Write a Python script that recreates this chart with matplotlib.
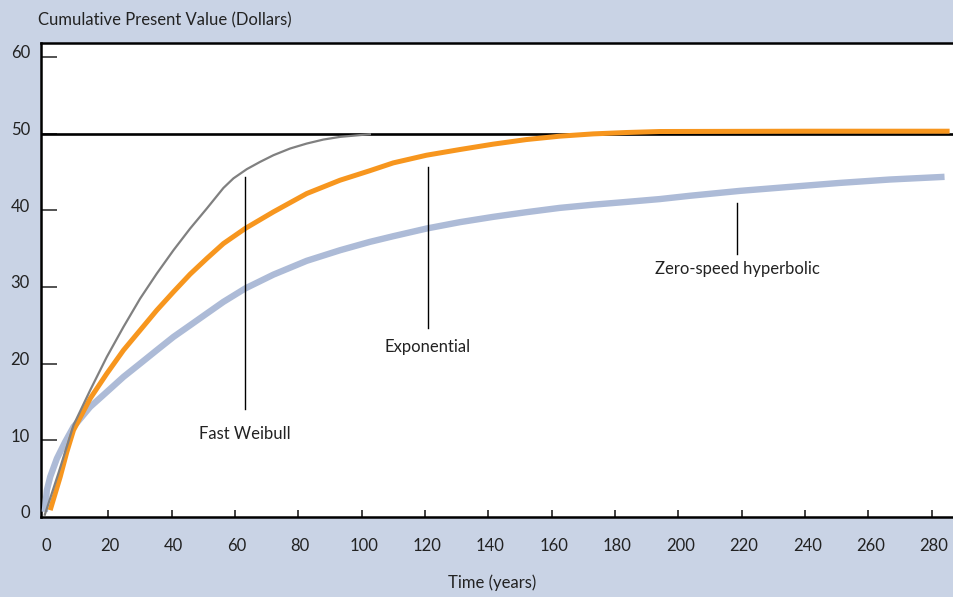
import matplotlib
matplotlib.use("Agg")
import matplotlib.pyplot as plt
import matplotlib.transforms as mtransforms

plt.rcParams['font.family'] = ['Lato', 'DejaVu Sans']

# Data
weibull_t = [0, 4.3, 9.06, 14.32, 19.58, 24.84, 30.09, 35.35, 40.61, 45.87, 51.13,
             56.38, 59.54, 63.75, 67.95, 72.16, 77.41, 82.67, 87.93, 93.19, 102.6]
weibull_v = [0.3, 5.7, 11.97, 16.53, 20.88, 24.79, 28.48, 31.74, 34.78, 37.61, 40.22,
             42.9, 44.15, 45.35, 46.30, 47.17, 48.04, 48.69, 49.21, 49.56, 49.91]

expo_t = [1.70, 3.28, 4.86, 6.96, 9.06, 14.32, 19.58, 24.84, 30.09, 35.35, 40.61,
          45.87, 51.13, 56.38, 63.23, 72.16, 82.67, 93.19, 102.6, 110.0, 120.5,
          131.0, 141.5, 152.0, 162.5, 173.1, 183.6, 194.1, 240, 285.6]
expo_v = [0.89, 3.06, 5.23, 8.49, 11.32, 15.45, 18.70, 21.75, 24.35, 26.96, 29.35,
          31.66, 33.70, 35.65, 37.61, 39.78, 42.17, 43.91, 45.15, 46.17, 47.17,
          47.91, 48.61, 49.21, 49.65, 49.95, 50.13, 50.26, 50.3, 50.3]

hyper_t = [0, 0.65, 1.70, 3.81, 6.44, 9.06, 14.32, 19.58, 24.84, 30.09, 35.35, 40.61,
           45.87, 51.13, 56.38, 63.23, 72.16, 82.67, 93.19, 102.6, 110.0, 120.5,
           131.0, 141.5, 152.0, 162.5, 173.1, 183.6, 194.1, 203.6, 219.4, 235.1,
           251.0, 266.7, 284.0]
hyper_v = [0.67, 3.49, 5.23, 7.62, 9.80, 11.75, 14.36, 16.31, 18.27, 20.0, 21.75, 23.48,
           25.0, 26.53, 28.05, 29.79, 31.6, 33.4, 34.78, 35.87, 36.61, 37.61,
           38.44, 39.13, 39.74, 40.30, 40.72, 41.08, 41.45, 41.88, 42.52, 43.04,
           43.56, 44.0, 44.35]

asymptote = 50
x_ticks = list(range(0, 281, 20))
y_ticks = list(range(0, 61, 10))

labels = ["Fast Weibull", "Exponential", "Zero-speed hyperbolic"]
label_t = [63.2, 120.8, 218.5]
line_top = [44.3, 45.6, 40.9]
line_bot = [14.1, 24.6, 34.3]
text_v = [10.8, 22.1, 32.3]

bg = '#c9d3e5'
fig = plt.figure(figsize=(9.54, 5.97), dpi=100, facecolor=bg)
ax = fig.add_axes([41/954, 1-517/597, 1-41/954 + 0.01, (517-43)/597])
ax.set_facecolor('white')
ax.set_xlim(-1.2, 290.0)
ax.set_ylim(0, 61.8)

ax.axhline(asymptote, color='black', lw=1.9, zorder=2)
ax.plot(hyper_t, hyper_v, color='#adbbd7', lw=4.6, solid_capstyle='butt',
        solid_joinstyle='round', zorder=3)
ax.plot(expo_t, expo_v, color='#f7961e', lw=3.6, solid_capstyle='butt',
        solid_joinstyle='round', zorder=4)
ax.plot(weibull_t, weibull_v, color='#808080', lw=1.6, solid_joinstyle='round', zorder=5)

for name, t, top, bot, tv in zip(labels, label_t, line_top, line_bot, text_v):
    ax.plot([t, t], [bot, top], color='black', lw=1.0, zorder=6)
    ax.text(t, tv, name, ha='center', va='center', fontsize=12, color='#222222', zorder=7)

for s in ['left', 'bottom', 'top']:
    ax.spines[s].set_linewidth(1.8)
    ax.spines[s].set_color('black')
ax.spines['right'].set_visible(False)

ax.set_xticks(x_ticks)
ax.set_yticks(y_ticks)
ax.tick_params(axis='x', direction='in', length=5, width=1.3, color='#333333',
               pad=15, labelsize=12, labelcolor='#222222')
ax.tick_params(axis='y', direction='in', length=11.5, width=1.3, color='#444444',
               pad=8, labelsize=12, labelcolor='#222222')
ax.xaxis.get_major_ticks()[0].tick1line.set_visible(False)
ax.yaxis.get_major_ticks()[0].tick1line.set_visible(False)

off_y = mtransforms.ScaledTranslation(0, 5/100, fig.dpi_scale_trans)
for lab in ax.get_yticklabels():
    lab.set_transform(lab.get_transform() + off_y)
off_x = mtransforms.ScaledTranslation(2/100, 0, fig.dpi_scale_trans)
for lab in ax.get_xticklabels():
    lab.set_transform(lab.get_transform() + off_x)

fig.text(38/954, 1-20/597, "Cumulative Present Value (Dollars)", ha='left', va='center',
         fontsize=12, color='#222222')
fig.text(492/954, 1-583/597, "Time (years)", ha='center', va='center',
         fontsize=12, color='#222222')

fig.savefig('out.png', dpi=100, facecolor=bg)
